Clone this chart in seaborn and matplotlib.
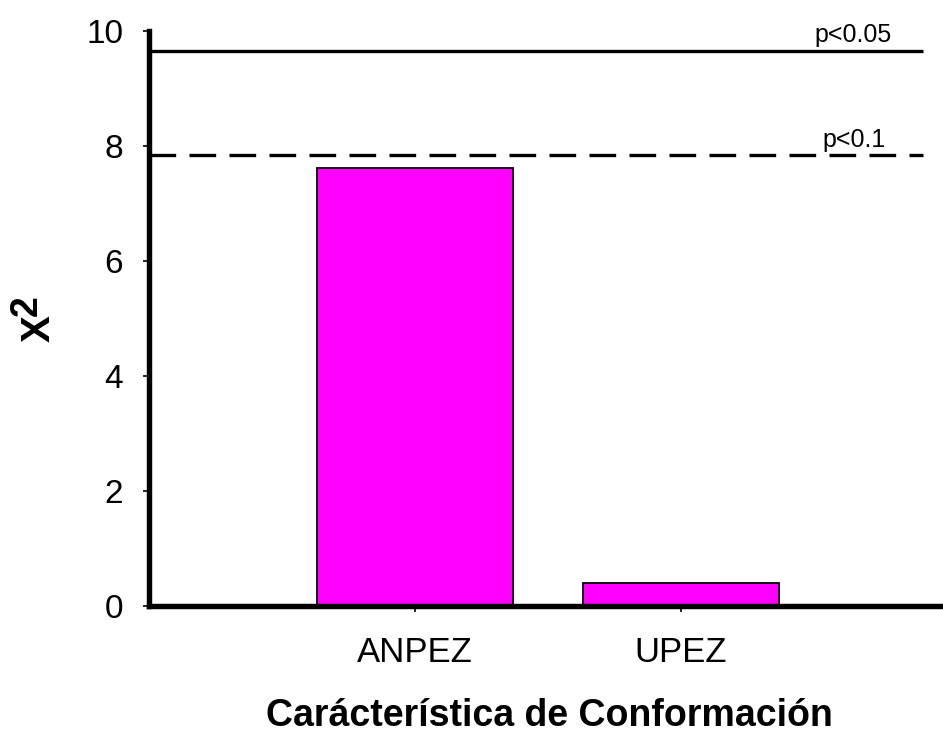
import matplotlib
matplotlib.use("Agg")
import matplotlib.pyplot as plt
import seaborn as sns
import pandas as pd

# Chi-square values per conformation trait
categories = ["ANPEZ", "UPEZ"]
chi2_values = [7.62, 0.39]

# Critical thresholds
threshold_labels = ["p<0.05", "p<0.1"]
threshold_values = [9.65, 7.84]

y_ticks = [0, 2, 4, 6, 8, 10]

sns.set_style("ticks")
plt.rcParams["font.family"] = ["Liberation Sans", "DejaVu Sans"]
plt.rcParams["text.color"] = "black"
plt.rcParams["axes.labelcolor"] = "black"

df = pd.DataFrame({"trait": categories, "chi2": chi2_values})

fig = plt.figure(figsize=(9.43, 7.33), dpi=100)
ax = fig.add_axes([149 / 943, 127.3 / 733, 1 - 149 / 943, (605.7 - 30.7) / 733])

sns.barplot(data=df, x="trait", y="chi2", color="#FF00FF", saturation=1,
            width=0.74, edgecolor="black", linewidth=1.3, ax=ax)
for p in ax.patches:
    p.set_facecolor("#FF00FF")

ax.set_xlim(-1, 1.985)
ax.set_ylim(0, 10)
ax.set_yticks(y_ticks)
ax.set_yticklabels([str(t) for t in y_ticks])

# Threshold lines
ax.hlines(threshold_values[0], -1, 1.91, colors="black", linewidth=2.4)
ax.hlines(threshold_values[1], -1, 1.91, colors="black", linewidth=2.4,
          linestyles=(0, (8, 4)))
ax.text(1.647, 9.80, threshold_labels[0], ha="center", va="baseline", fontsize=18)
ax.text(1.652, 7.98, threshold_labels[1], ha="center", va="baseline", fontsize=18)

for side in ["top", "right"]:
    ax.spines[side].set_visible(False)
for side in ["left", "bottom"]:
    ax.spines[side].set_linewidth(3.9)
    ax.spines[side].set_color("black")

ax.tick_params(axis="y", direction="out", length=4.5, width=1.2, pad=14,
               labelsize=24, colors="black")
ax.tick_params(axis="x", direction="out", length=4.5, width=1.2, pad=17,
               labelsize=25, colors="black")

ax.set_xlabel("")
ax.set_ylabel("")
fig.text(549 / 943, 1 - 726 / 733, "Carácterística de Conformación",
         ha="center", va="baseline", fontsize=27, fontweight="bold")

# Y axis title: X with raised 2
fig.text(39 / 943, 1 - 329 / 733, "X", rotation=90, ha="center", va="center",
         fontsize=29, fontweight="bold")
fig.text(27 / 943, 1 - 306 / 733, "2", rotation=90, ha="center", va="center",
         fontsize=27, fontweight="bold")

fig.savefig("out.png", dpi=100, facecolor="white")
